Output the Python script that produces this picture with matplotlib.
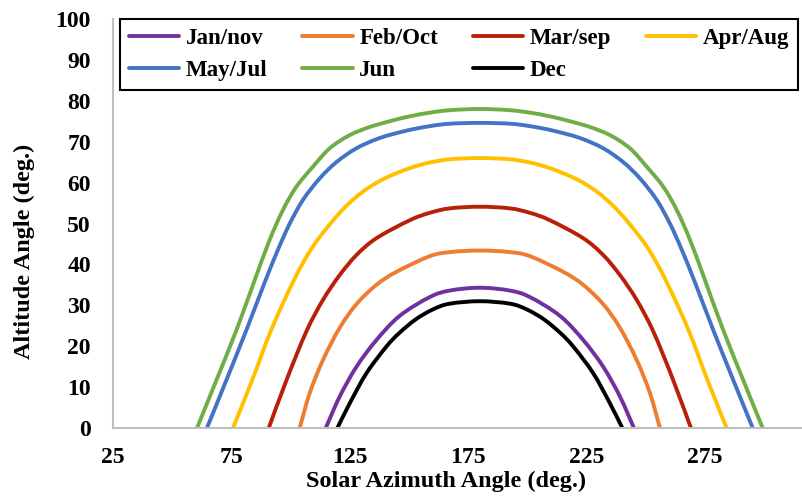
import matplotlib
matplotlib.use('Agg')
import matplotlib.pyplot as plt
from matplotlib.path import Path
from matplotlib.patches import PathPatch

# sun path by month: solar azimuth (deg) vs altitude (deg)
jan_az = [114.9, 120.8, 127.9, 136.3, 146.1, 158.8, 167.3, 180.0,
          192.7, 201.2, 213.9, 223.7, 232.1, 239.2, 245.1]
jan_alt = [0.0, 7.7, 15.0, 21.5, 27.4, 32.0, 33.6, 34.3,
           33.6, 32.0, 27.4, 21.5, 15.0, 7.7, 0.0]

feb_az = [103.9, 108.1, 113.7, 120.8, 127.9, 136.3, 144.8, 158.8, 167.3, 180.0,
          192.7, 201.2, 215.2, 223.7, 232.1, 239.2, 246.3, 251.9, 256.1]
feb_alt = [0.0, 8.5, 16.6, 24.5, 30.3, 35.0, 38.2, 42.0, 43.0, 43.4,
           43.0, 42.0, 38.2, 35.0, 30.3, 24.5, 16.6, 8.5, 0.0]

mar_az = [90.8, 98.5, 106.7, 113.7, 120.8, 127.9, 136.3, 150.4, 158.8, 167.3, 180.0,
          192.7, 201.2, 209.6, 223.7, 232.1, 239.2, 246.3, 253.3, 261.5, 269.2]
mar_alt = [0.0, 12.0, 23.6, 31.3, 37.4, 42.3, 46.4, 50.8, 52.6, 53.7, 54.1,
           53.7, 52.6, 50.8, 46.4, 42.3, 37.4, 31.3, 23.6, 12.0, 0.0]

apr_az = [75.7, 84.0, 92.0, 101.5, 108.8, 116.6, 123.6, 130.6, 137.7, 144.8, 151.8, 158.8, 167.3, 180.0,
          192.7, 201.2, 208.2, 215.2, 222.3, 229.4, 236.4, 243.4, 251.2, 258.5, 268.0, 276.0, 284.3]
apr_alt = [0.0, 12.0, 24.2, 36.2, 43.8, 49.8, 54.3, 57.8, 60.4, 62.3, 63.8, 64.9, 65.7, 66.0,
           65.7, 64.9, 63.8, 62.3, 60.4, 57.8, 54.3, 49.8, 43.8, 36.2, 24.2, 12.0, 0.0]

may_az = [64.7, 72.9, 81.4, 89.1, 94.7, 99.7, 105.3, 112.3, 119.4, 127.9, 137.7, 149.0, 158.8, 167.3, 180.0,
          192.7, 201.2, 211.0, 222.3, 232.1, 240.6, 247.7, 254.7, 260.3, 265.3, 270.9, 278.6, 287.1, 295.3]
may_alt = [0.0, 11.7, 24.0, 35.6, 43.6, 50.0, 55.8, 61.0, 65.0, 68.4, 70.9, 72.7, 73.8, 74.4, 74.6,
           74.4, 73.8, 72.7, 70.9, 68.4, 65.0, 61.0, 55.8, 50.0, 43.6, 35.6, 24.0, 11.7, 0.0]

jun_az = [60.5, 68.7, 77.2, 84.9, 91.2, 96.8, 102.5, 109.5, 116.6, 125.0, 133.5, 141.9, 150.4, 158.8, 167.3, 180.0,
          192.7, 201.2, 209.6, 218.1, 226.5, 235.0, 243.4, 250.5, 257.5, 263.2, 268.8, 275.1, 282.8, 291.3, 299.5]
jun_alt = [0.0, 11.7, 24.0, 36.2, 46.0, 53.3, 59.0, 63.9, 68.4, 71.6, 73.6, 75.0, 76.2, 77.1, 77.7, 78.0,
           77.7, 77.1, 76.2, 75.0, 73.6, 71.6, 68.4, 63.9, 59.0, 53.3, 46.0, 36.2, 24.0, 11.7, 0.0]

dec_az = [119.8, 125.0, 132.1, 140.5, 146.1, 153.0, 160.2, 167.3, 180.0,
          192.7, 199.8, 207.0, 213.9, 219.5, 227.9, 235.0, 240.2]
dec_alt = [0.0, 6.0, 13.4, 19.9, 23.3, 26.6, 29.0, 30.4, 31.0,
           30.4, 29.0, 26.6, 23.3, 19.9, 13.4, 6.0, 0.0]

x_ticks = [25, 75, 125, 175, 225, 275]
y_ticks = [0, 10, 20, 30, 40, 50, 60, 70, 80, 90, 100]

series = [
    ('Jan/nov', jan_az, jan_alt, '#7030A0'),
    ('Feb/Oct', feb_az, feb_alt, '#ED7D31'),
    ('Mar/sep', mar_az, mar_alt, '#B8200A'),
    ('Apr/Aug', apr_az, apr_alt, '#FFC000'),
    ('May/Jul', may_az, may_alt, '#4472C4'),
    ('Jun', jun_az, jun_alt, '#70AD47'),
    ('Dec', dec_az, dec_alt, '#000000'),
]


def smooth_path(xs, ys):
    # Catmull-Rom through the points, written as cubic Bezier segments
    pts = list(zip(xs, ys))
    n = len(pts)
    verts = [pts[0]]
    codes = [Path.MOVETO]
    for i in range(n - 1):
        p0 = pts[i - 1] if i > 0 else pts[i]
        p1 = pts[i]
        p2 = pts[i + 1]
        p3 = pts[i + 2] if i + 2 < n else pts[i + 1]
        c1 = (p1[0] + (p2[0] - p0[0]) / 6, p1[1] + (p2[1] - p0[1]) / 6)
        c2 = (p2[0] - (p3[0] - p1[0]) / 6, p2[1] - (p3[1] - p1[1]) / 6)
        verts += [c1, c2, p2]
        codes += [Path.CURVE4] * 3
    return Path(verts, codes)


plt.rcParams['font.family'] = ['Liberation Serif', 'DejaVu Serif']
plt.rcParams['font.weight'] = 'bold'

fig = plt.figure(figsize=(8.02, 5.0), dpi=100)
ax = fig.add_axes([113 / 802, 1 - 428 / 500, 710 / 802, 409 / 500])

lines = {}
for name, az, alt, col in series:
    ax.add_patch(PathPatch(smooth_path(az, alt), facecolor='none', edgecolor=col,
                           lw=2.8, joinstyle='round', capstyle='round'))
    # legend handle only
    ln, = ax.plot([], [], color=col, lw=2.8, label=name, solid_capstyle='round')
    lines[name] = ln

ax.set_xlim(25, 325)
ax.set_ylim(0, 100)
ax.set_xticks(x_ticks)
ax.set_yticks(y_ticks)
ax.tick_params(axis='both', length=0, labelsize=17)
ax.tick_params(axis='x', pad=13.5)
ax.tick_params(axis='y', pad=16)
for lab in ax.get_xticklabels() + ax.get_yticklabels():
    lab.set_fontweight('bold')

for side in ['top', 'right']:
    ax.spines[side].set_visible(False)
for side in ['left', 'bottom']:
    ax.spines[side].set_color('#BFBFBF')
    ax.spines[side].set_linewidth(1.5)

fig.text(446 / 802, 1 - 481 / 500, 'Solar Azimuth Angle (deg.)',
         ha='center', va='center', fontsize=17.5, fontweight='bold')
fig.text(24 / 802, 1 - 251 / 500, 'Altitude Angle (deg.)', rotation=90,
         ha='center', va='center', fontsize=17.5, fontweight='bold')

# legend laid out row by row (matplotlib fills columns first)
order = ['Jan/nov', 'May/Jul', 'Feb/Oct', 'Jun', 'Mar/sep', 'Dec', 'Apr/Aug']
leg = fig.legend([lines[n] for n in order], order, ncol=4,
                 loc='upper left', bbox_to_anchor=(120 / 802, 1 - 19 / 500),
                 bbox_transform=fig.transFigure, borderaxespad=0,
                 handlelength=2.2, columnspacing=1.5,
                 handletextpad=0.3, labelspacing=0.5, borderpad=0.38,
                 frameon=True, fancybox=False, framealpha=1,
                 prop={'weight': 'bold', 'size': 16.5})
leg.get_frame().set_edgecolor('black')
leg.get_frame().set_linewidth(1.5)

fig.savefig('out.png', dpi=100)
